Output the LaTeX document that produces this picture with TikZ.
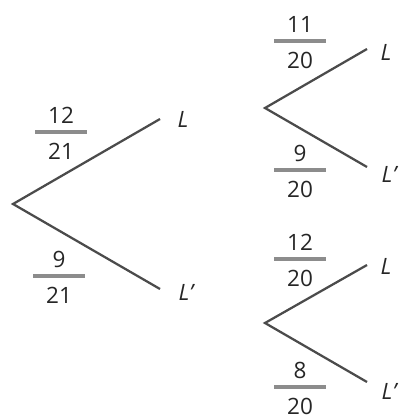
\documentclass[tikz,border=0pt]{standalone}
\usepackage{fontspec}
\setmainfont{Open Sans}
\usepackage{tikz}
\usetikzlibrary{positioning,calc}
\definecolor{branchgray}{RGB}{75,75,75}
\definecolor{bargray}{RGB}{140,140,140}

\tikzset{
  branch/.style={draw=branchgray, line width=1.6pt},
  fracbar/.style={draw=bargray, line width=2.2pt},
  digit/.style={inner sep=0pt, text=black!85, font=\fontsize{16}{19}\selectfont},
  event/.style={inner sep=0pt, text=black!85, font=\fontsize{16}{19}\selectfont\itshape}
}

% fraction: name, position of bar centre, numerator, denominator
\newcommand{\probfrac}[4]{%
  \coordinate (#1) at (#2);
  \draw[fracbar] ($(#1)+(-26,0)$) -- ($(#1)+(26,0)$);
  \node[digit, above=5.5pt of #1] (#1-num) {#3};
  \node[digit, below=7.5pt of #1] (#1-den) {#4};
}

\begin{document}
\begin{tikzpicture}[x=0.025cm, y=-0.025cm]
  \useasboundingbox (0,0) rectangle (399,420);

  % first stage
  \coordinate (root) at (13,204);
  \coordinate (upA) at (160,119);
  \coordinate (loA) at (160,289);
  \draw[branch] (upA) -- (root) -- (loA);
  \node[event] (LA) at (183,119) {L};
  \node[event] (LpA) at (186,292) {L'};
  \probfrac{fA}{61,132}{12}{21}
  \probfrac{fB}{59,276}{9}{21}

  % second stage, upper
  \coordinate (rootB) at (265,108);
  \coordinate (upB) at (367,49);
  \coordinate (loB) at (367,167);
  \draw[branch] (upB) -- (rootB) -- (loB);
  \node[event] (LB) at (386,52) {L};
  \node[event] (LpB) at (389,174) {L'};
  \probfrac{fC}{300,41}{11}{20}
  \probfrac{fD}{300,170}{9}{20}

  % second stage, lower
  \coordinate (rootC) at (265,323);
  \coordinate (upC) at (367,265);
  \coordinate (loC) at (367,382);
  \draw[branch] (upC) -- (rootC) -- (loC);
  \node[event] (LC) at (386,266) {L};
  \node[event] (LpC) at (389,391) {L'};
  \probfrac{fE}{300,259}{12}{20}
  \probfrac{fF}{300,387}{8}{20}
\end{tikzpicture}
\end{document}
